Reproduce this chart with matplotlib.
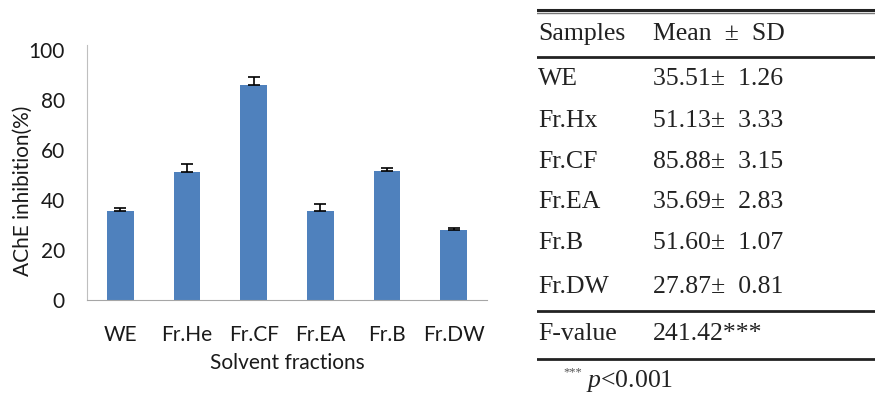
import numpy as np
import matplotlib.pyplot as plt

plt.rcParams["mathtext.fontset"] = "custom"
plt.rcParams["mathtext.it"] = "Liberation Serif:italic"
plt.rcParams["mathtext.rm"] = "Liberation Serif"

# chart data
fractions = ["WE", "Fr.He", "Fr.CF", "Fr.EA", "Fr.B", "Fr.DW"]
means = [35.51, 51.13, 85.88, 35.69, 51.60, 27.87]
sds = [1.26, 3.33, 3.15, 2.83, 1.07, 0.81]

# table data
table_samples = ["WE", "Fr.Hx", "Fr.CF", "Fr.EA", "Fr.B", "Fr.DW"]
f_value = "241.42***"

fig = plt.figure(figsize=(8.75, 3.96), dpi=100)

# --- bar chart ---
ax = fig.add_axes([87 / 875, 1 - 300 / 396, 400 / 875, 255 / 396])
x = np.arange(len(fractions))
ax.bar(x, means, width=0.4, color="#4F81BD", zorder=2)
ax.errorbar(x, means, yerr=[np.zeros(len(sds)), sds], fmt="none",
            ecolor="black", elinewidth=1.2, capsize=4, capthick=1.2, zorder=3)
ax.set_xlim(-0.5, len(fractions) - 0.5)
ax.set_ylim(0, 102)
ax.set_yticks([0, 20, 40, 60, 80, 100])
ax.set_xticks(x)
ax.set_xticklabels(fractions)
for s in ["top", "right"]:
    ax.spines[s].set_visible(False)
ax.spines["left"].set_color("#BFBFBF")
ax.spines["bottom"].set_color("#A6A6A6")
ax.tick_params(length=0, labelsize=15, colors="#1a1a1a")
ax.tick_params(axis="y", pad=16)
ax.tick_params(axis="x", pad=18)
for lab in ax.get_xticklabels() + ax.get_yticklabels():
    lab.set_family("Lato")
ax.set_ylabel("AChE inhibition(%)", fontsize=15, family="Lato", color="#1a1a1a",
              va="center")
ax.yaxis.set_label_coords(-0.16, 0.43)
ax.set_xlabel("Solvent fractions", fontsize=15, family="Lato", color="#1a1a1a", labelpad=6)

# --- table (pixel coordinates) ---
tx = fig.add_axes([537 / 875, 0, 1 - 537 / 875, 1])
tx.set_xlim(537, 875)
tx.set_ylim(396, 0)
tx.axis("off")

serif = dict(family="Liberation Serif", fontsize=18.5, color="#222222", va="center")
tx.plot([537, 875], [9.5, 9.5], color="#222222", lw=2.2)
tx.plot([537, 875], [13, 13], color="#777777", lw=1)
tx.plot([537, 875], [57, 57], color="#222222", lw=2)
tx.plot([537, 875], [311, 311], color="#222222", lw=2)
tx.plot([537, 875], [359, 359], color="#222222", lw=2)

tx.text(538, 34, "Samples", **serif)
tx.text(653, 34, "Mean  \u00b1  SD", **serif)
row_y = [79, 121, 162, 202, 243, 287]
for name, m, s, yy in zip(table_samples, means, sds, row_y):
    tx.text(538, yy, name, **serif)
    tx.text(653, yy, f"{m:.2f}\u00b1  {s:.2f}", **serif)
tx.text(538, 334, "F-value", **serif)
tx.text(653, 334, f_value, **serif)
tx.text(563, 372, "***", family="Liberation Serif", fontsize=9, color="#555555", va="center")
tx.text(586, 381, r"$\mathit{p}$<0.001", **serif)

fig.savefig("out.png", dpi=100)
